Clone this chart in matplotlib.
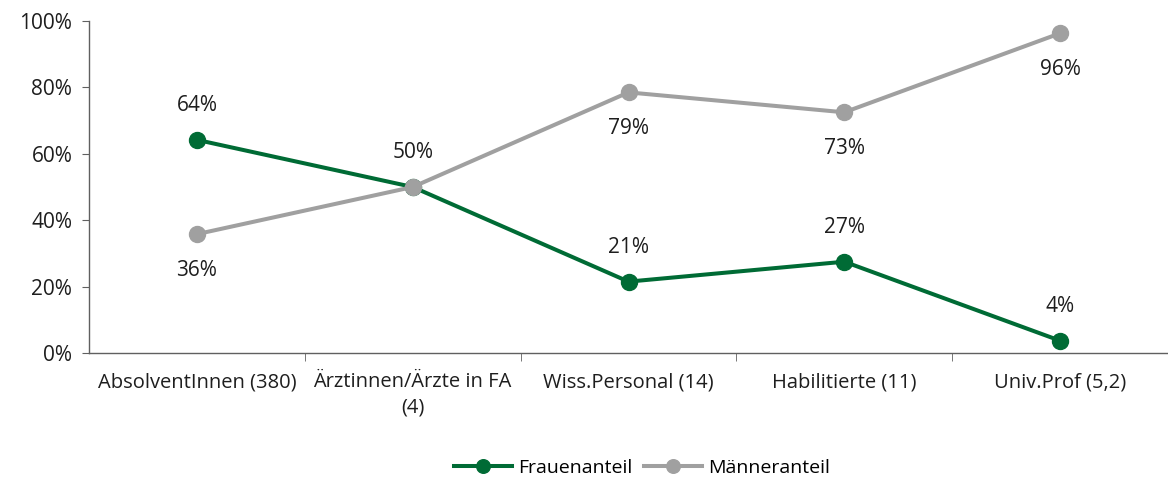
import numpy as np
import matplotlib.pyplot as plt
from matplotlib.ticker import FixedLocator, PercentFormatter

plt.rcParams['font.family'] = ['Open Sans', 'DejaVu Sans']

categories = ["AbsolventInnen (380)", "Ärztinnen/Ärzte in FA\n(4)", "Wiss.Personal (14)",
              "Habilitierte (11)", "Univ.Prof (5,2)"]
frauen = [64.2, 50.0, 21.5, 27.5, 3.7]
maenner = [35.8, 50.0, 78.5, 72.5, 96.3]
frauen_labels = ["64%", "50%", "21%", "27%", "4%"]
maenner_labels = ["36%", "", "79%", "73%", "96%"]

green = "#006B35"
grey = "#A0A0A0"
txt = "#1E1E1E"

fig = plt.figure(figsize=(11.68, 4.79), dpi=100)
ax = fig.add_axes([89/1168, 1-353/479, 1-89/1168, (353-21)/479])

x = np.arange(len(categories))
ax.plot(x, frauen, color=green, lw=2.9, marker="o", ms=11.5, label="Frauenanteil", zorder=3)
ax.plot(x, maenner, color=grey, lw=2.9, marker="o", ms=11.5, label="Männeranteil", zorder=3)

for xi, v, t in zip(x, frauen, frauen_labels):
    if t:
        ax.annotate(t, (xi, v), xytext=(0, 24.5), textcoords="offset points",
                    ha="center", va="center", fontsize=15, color=txt)
for xi, v, t in zip(x, maenner, maenner_labels):
    if t:
        ax.annotate(t, (xi, v), xytext=(0, -26), textcoords="offset points",
                    ha="center", va="center", fontsize=15, color=txt)

ax.set_xlim(-0.5, 4.5)
ax.set_ylim(0, 100)
ax.set_yticks([0, 20, 40, 60, 80, 100])
ax.yaxis.set_major_formatter(PercentFormatter(decimals=0))
ax.set_xticks(x)
ax.set_xticklabels(categories, fontsize=14.5, color=txt, linespacing=1.35)
ax.xaxis.set_minor_locator(FixedLocator(np.arange(0.5, 4.5, 1)))
ax.tick_params(axis="x", which="major", length=0, pad=14)
ax.tick_params(axis="x", which="minor", length=6, color="#606060")
ax.tick_params(axis="y", length=5, color="#606060", labelsize=15, labelcolor=txt, pad=7)

for s in ["top", "right"]:
    ax.spines[s].set_visible(False)
for s in ["left", "bottom"]:
    ax.spines[s].set_color("#606060")
    ax.spines[s].set_linewidth(1)

fig.legend(loc="center", bbox_to_anchor=(642/1168, 1-468/479), ncol=2, frameon=False,
           fontsize=14, handlelength=3.0, columnspacing=0.6, handletextpad=0.3,
           markerscale=0.85)

fig.savefig("out.png", dpi=100)
